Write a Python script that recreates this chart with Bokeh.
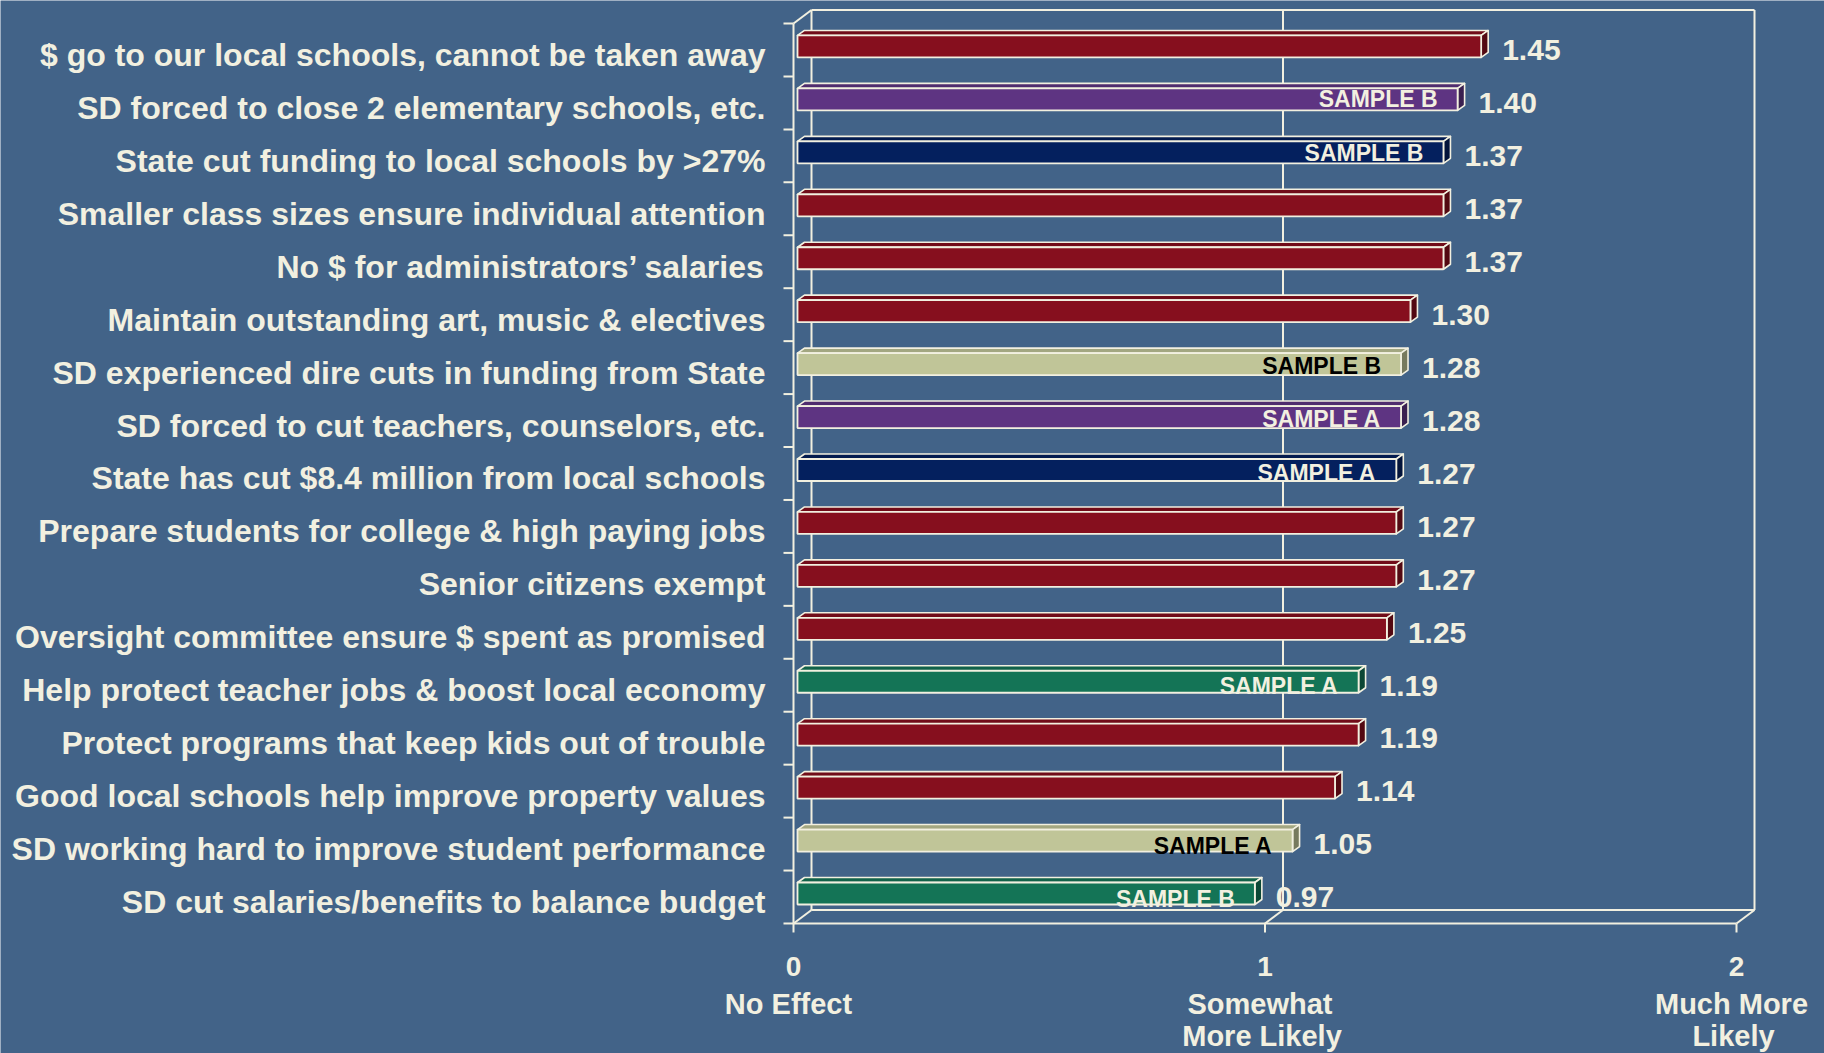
from bokeh.plotting import figure
from bokeh.models import Range1d, ColumnDataSource
from bokeh.embed import file_html
from bokeh.resources import INLINE
from bokeh.core.properties import value

# ---------------- data ----------------
categories = [
    "$ go to our local schools, cannot be taken away",
    "SD forced to close 2 elementary schools, etc.",
    "State cut funding to local schools by >27%",
    "Smaller class sizes ensure individual attention",
    "No $ for administrators\u2019 salaries",
    "Maintain outstanding art, music & electives",
    "SD experienced dire cuts in funding from State",
    "SD forced to cut teachers, counselors, etc.",
    "State has cut $8.4 million from local schools",
    "Prepare students for college & high paying jobs",
    "Senior citizens exempt",
    "Oversight committee ensure $ spent as promised",
    "Help protect teacher jobs & boost local economy",
    "Protect programs that keep kids out of trouble",
    "Good local schools help improve property values",
    "SD working hard to improve student performance",
    "SD cut salaries/benefits to balance budget",
]
scores = [1.45, 1.40, 1.37, 1.37, 1.37, 1.30, 1.28, 1.28, 1.27, 1.27,
          1.27, 1.25, 1.19, 1.19, 1.14, 1.05, 0.97]
bar_kind = ["red", "purple", "navy", "red", "red", "red", "khaki", "purple",
            "navy", "red", "red", "red", "green", "red", "red", "khaki", "green"]
sample_labels = ["", "SAMPLE B", "SAMPLE B", "", "", "", "SAMPLE B", "SAMPLE A",
                 "SAMPLE A", "", "", "", "SAMPLE A", "", "", "SAMPLE A", "SAMPLE B"]
tick_values = [0, 1, 2]
tick_numbers = ["0", "1", "2"]
tick_line1 = ["No Effect", "Somewhat", "Much More"]
tick_line2 = ["", "More Likely", "Likely"]

# ---------------- style ----------------
BG = "#426388"
CREAM = "#f2f0e0"
FILL = {"red": "#860f1e", "purple": "#5e3482", "navy": "#04205e",
        "khaki": "#c0c598", "green": "#147456"}
FONT = value("Liberation Sans")


def shade(h, f):
    h = h.lstrip("#")
    r, g, b = (int(h[i:i + 2], 16) for i in (0, 2, 4))
    return "#%02x%02x%02x" % (int(r * f), int(g * f), int(b * f))


W, H = 1824, 1053
PX_X = 471.5     # pixels per score unit
PX_Y = 52.94     # pixels per category row
X0_PX = 793      # pixel of score 0 (front plane)
TOP_PX = 23      # pixel of the box top (front plane)

n = len(categories)
x_start = -X0_PX / PX_X
x_end = x_start + W / PX_X
y_top = (n - 0.5) + TOP_PX / PX_Y
y_bottom = y_top - H / PX_Y


def dx(px):
    return px / PX_X


def dy(px):
    return px / PX_Y


p = figure(width=W, height=H, x_range=Range1d(x_start, x_end),
           y_range=Range1d(y_bottom, y_top), x_axis_type=None, y_axis_type=None,
           output_backend="svg", toolbar_location=None, min_border=0,
           background_fill_color=BG, border_fill_color=BG, outline_line_color=None)
p.grid.visible = False

rows = [n - 1 - k for k in range(n)]
xmin, xmax = tick_values[0], tick_values[-1]
ylo, yhi = -0.5, n - 0.5
DX, DY = dx(18), dy(13.5)

# ---------------- 3D box ----------------
xs_l, ys_l = [], []


def seg(x0, y0, x1, y1):
    xs_l.append([x0, x1])
    ys_l.append([y0, y1])


seg(xmin, ylo, xmin, yhi)                       # front left axis
seg(xmin, ylo, xmax, ylo)                       # front floor
seg(xmin + DX, ylo + DY, xmin + DX, yhi + DY)   # back left
seg(xmin + DX, yhi + DY, xmax + DX, yhi + DY)   # back top
seg(xmax + DX, yhi + DY, xmax + DX, ylo + DY)   # back right
seg(xmin + DX, ylo + DY, xmax + DX, ylo + DY)   # back floor
seg(xmin, yhi, xmin + DX, yhi + DY)             # top-left diagonal
for t in tick_values:
    seg(t, ylo, t + DX, ylo + DY)               # floor diagonals
    seg(t, ylo, t, ylo - dy(9))                 # x ticks
    if xmin < t < xmax:
        seg(t + DX, ylo + DY, t + DX, yhi + DY)  # back gridline
for k in range(n + 1):
    yb = ylo + k
    seg(xmin - dx(10), yb, xmin, yb)            # y ticks
p.multi_line(xs_l, ys_l, line_color=CREAM, line_width=2)

# ---------------- bars ----------------
BX0 = dx(4)
BLIFT = dy(3.5)
BHALF = dy(11)
bdx, bdy = dx(7), dy(5)

front = dict(left=[], right=[], top=[], bottom=[], color=[])
top_f = dict(xs=[], ys=[], color=[])
side_f = dict(xs=[], ys=[], color=[])
for y, v, kind in zip(rows, scores, bar_kind):
    l, r = xmin + BX0, v + BX0
    b, t = y + BLIFT - BHALF, y + BLIFT + BHALF
    front["left"].append(l); front["right"].append(r)
    front["top"].append(t); front["bottom"].append(b)
    front["color"].append(FILL[kind])
    top_f["xs"].append([l, r, r + bdx, l + bdx])
    top_f["ys"].append([t, t, t + bdy, t + bdy])
    top_f["color"].append(shade(FILL[kind], 0.85))
    side_f["xs"].append([r, r, r + bdx, r + bdx])
    side_f["ys"].append([b, t, t + bdy, b + bdy])
    side_f["color"].append(shade(FILL[kind], 0.62))

p.patches("xs", "ys", source=ColumnDataSource(top_f), fill_color="color",
          line_color=CREAM, line_width=1.6, line_join="round")
p.patches("xs", "ys", source=ColumnDataSource(side_f), fill_color="color",
          line_color=CREAM, line_width=1.6, line_join="round")
p.quad(left="left", right="right", top="top", bottom="bottom",
       source=ColumnDataSource(front), fill_color="color",
       line_color=CREAM, line_width=1.8)

# ---------------- texts (y = visual centre of the text) ----------------
cat_src = ColumnDataSource(dict(x=[xmin - dx(28)] * n,
                                y=[y - dy(5) for y in rows], text=categories))
p.text("x", "y", text="text", source=cat_src, text_font=FONT,
       text_font_style="bold", text_font_size="32px", text_color=CREAM,
       text_align="right", text_baseline="alphabetic")

val_src = ColumnDataSource(dict(x=[v + dx(25) for v in scores],
                                y=[y - dy(0.3) for y in rows],
                                text=["%.2f" % v for v in scores]))
p.text("x", "y", text="text", source=val_src, text_font=FONT,
       text_font_style="bold", text_font_size="30px", text_color=CREAM,
       text_align="left", text_baseline="alphabetic")

sx, sy, st, sc = [], [], [], []
for k, (y, v, kind, lab) in enumerate(zip(rows, scores, bar_kind, sample_labels)):
    if lab:
        sx.append(v + BX0 - dx(20))
        sy.append(y - dy(-4 + 0.38 * k))
        st.append(lab)
        sc.append("#000000" if kind == "khaki" else CREAM)
p.text("x", "y", text="text", source=ColumnDataSource(dict(x=sx, y=sy, text=st, c=sc)),
       text_font=FONT, text_font_style="bold", text_font_size="23px",
       text_color="c", text_align="right", text_baseline="alphabetic")

tick_src = ColumnDataSource(dict(x=tick_values, y=[ylo - dy(43)] * 3, text=tick_numbers))
p.text("x", "y", text="text", source=tick_src, text_font=FONT, text_font_style="bold",
       text_font_size="28px", text_color=CREAM, text_align="center",
       text_baseline="alphabetic")
l1_src = ColumnDataSource(dict(x=[t - dx(5) for t in tick_values],
                               y=[ylo - dy(81)] * 3, text=tick_line1))
p.text("x", "y", text="text", source=l1_src, text_font=FONT, text_font_style="bold",
       text_font_size="29px", text_color=CREAM, text_align="center",
       text_baseline="alphabetic")
l2_src = ColumnDataSource(dict(x=[t - dx(3) for t in tick_values],
                               y=[ylo - dy(113)] * 3, text=tick_line2))
p.text("x", "y", text="text", source=l2_src, text_font=FONT, text_font_style="bold",
       text_font_size="29px", text_color=CREAM, text_align="center",
       text_baseline="alphabetic")

open("out.html", "w").write(file_html(p, INLINE))
